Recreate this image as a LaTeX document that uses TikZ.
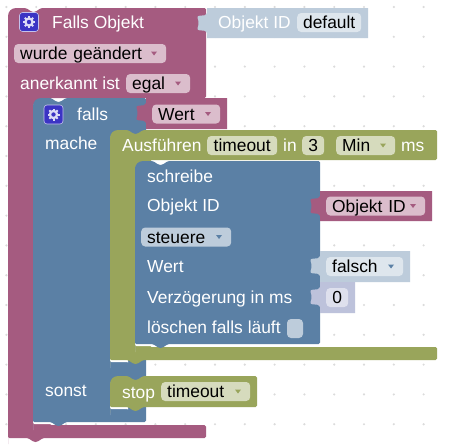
\documentclass[tikz,border=0pt]{standalone}
\usepackage{fontspec}
\setmainfont{Liberation Sans}
\definecolor{blkpink}{HTML}{A55B80}
\definecolor{fldpink}{HTML}{DBBDCC}
\definecolor{blkblue}{HTML}{5B80A5}
\definecolor{fldblue}{HTML}{BDCCDB}
\definecolor{fldpale}{HTML}{DEE6ED}
\definecolor{blkgreen}{HTML}{99A55B}
\definecolor{fldgreen}{HTML}{D6DBBD}
\definecolor{blklav}{HTML}{BDC2DB}
\definecolor{fldlav}{HTML}{DEE0ED}
\definecolor{iconblue}{HTML}{3B34C4}
\definecolor{icongear}{HTML}{DCDCF6}
\tikzset{
  lbl/.style={anchor=west, inner sep=0pt, text height=12.5pt, text depth=0pt, text=white, font=\fontsize{17.4}{20}\selectfont},
  field/.style={lbl, text=black, rounded corners=4pt, minimum height=19pt, align=left}
}
% Puzzle pieces of the block outlines
\newcommand{\notchtop}{-- ++(6,4) -- ++(3,0) -- ++(6,-4)}
\newcommand{\notchbot}{-- ++(-6,4) -- ++(-3,0) -- ++(-6,-4)}
\newcommand{\tabin}{-- ++(-10,1) -- ++(2,7) -- ++(-2,7) -- ++(10,1)}
\newcommand{\fallspath}{(33,120) [rounded corners=8pt] -- (33,98) [rounded corners=1.5pt] -- (51,98) \notchtop -- (146,98) -- (146,422) -- (66,422) \notchbot -- (33,422) [rounded corners=8pt] -- (33,420) -- cycle}
\newcommand{\runpath}{(110,145) [rounded corners=8pt] -- (110,130) [rounded corners=1.5pt] -- (128,130) \notchtop -- (437,130) -- (437,160) -- (150,160) -- (150,347) -- (437,347) -- (437,360) -- (143,360) \notchbot -- (110,360) [rounded corners=8pt] -- (110,358) -- cycle}
\newcommand{\writepath}{(135,175) [rounded corners=8pt] -- (135,161) [rounded corners=1.5pt] -- (153,161) \notchtop -- (320,161) -- (320,344) -- (168,344) \notchbot -- (135,344) [rounded corners=8pt] -- (135,342) -- cycle}
\newcommand{\stoppath}{(110,392) [rounded corners=8pt] -- (110,376) [rounded corners=1.5pt] -- (128,376) \notchtop -- (257,376) -- (257,407) -- (143,407) \notchbot -- (110,407) [rounded corners=8pt] -- (110,405) -- cycle}
% Value block: box with its tab on the left
\newcommand{\outblock}[5]{\fill[#5] (#1,#2) [rounded corners=2pt] -- (#1,#2+7) \tabin [sharp corners] -- (#1,#4) -- (#3,#4) -- (#3,#2) -- cycle;}
% Field with a text and a small menu triangle
\newcommand{\menufield}[7]{
  \node[field, fill=#6, minimum width=#3pt-#2pt, text width=#3pt-#2pt, inner xsep=0pt] (#1) at (#2,#4) {\hspace*{6pt}#5};
  \fill[#7] (#3-15,#4-2) -- (#3-9,#4-2) -- (#3-12,#4+2) -- cycle;
}
\newcommand{\gearicon}[2]{
  \fill[iconblue, draw=white!70!iconblue, line width=.6pt, rounded corners=3pt] (#1-9.5,#2-9.5) rectangle (#1+9.5,#2+9.5);
  \foreach \a in {0,45,...,315}
    \draw[icongear, line width=2pt] (#1,#2) -- ++(\a:6);
  \fill[icongear] (#1,#2) circle[radius=4.8];
  \fill[iconblue] (#1,#2) circle[radius=2.2];
}
\begin{document}
\begin{tikzpicture}[x=1pt, y=-1pt]
    \useasboundingbox (0,0) rectangle (450,447);
    \fill[white] (0,0) rectangle (450,447);

    % Workspace dots
    \foreach \i in {0,...,14}
      \foreach \j in {0,...,14}
        \fill[black!14] (6.4+29.8*\i,7+29.8*\j) circle[radius=1.2];

    % Outer block
    \fill[blkpink] (8,40) [rounded corners=8pt] -- (8,8) [rounded corners=1.5pt] -- (26,8) \notchtop -- (206,8) -- (206,98) -- (50,98) -- (50,425) -- (206,425) -- (206,438) -- (43,438) \notchbot -- (8,438) [rounded corners=8pt] -- (8,436) -- cycle;
    \outblock{207}{8}{368}{38}{fldblue}
    \gearicon{29}{22}
    \node[lbl] (fallsobjekt) at (52,22) {Falls Objekt};
    \node[lbl] (objektid) at (218,22) {Objekt ID};
    \node[field, fill=fldpale, minimum width=64pt] (default) at (297,22.5) {default};
    \menufield{geaendert}{14}{166}{53.5}{wurde geändert}{fldpink}{blkpink}
    \node[lbl] (anerkannt) at (20,83) {anerkannt ist};
    \menufield{egal}{126}{190}{83.5}{egal}{fldpink}{blkpink}

    % Inner if block
    \begin{scope}
      \clip (0,0) rectangle (51,447);
      \fill[white, yshift=-2pt] \fallspath;
    \end{scope}
    \fill[blkblue] \fallspath;
    \outblock{146}{98}{227}{129}{blkpink}
    \gearicon{53.5}{114.5}
    \node[lbl] (falls) at (77,114) {falls};
    \menufield{wert}{152}{220}{114}{Wert}{fldpink}{blkpink}
    \node[lbl] (mache) at (45,143) {mache};
    \node[lbl] (sonst) at (45,390) {sonst};

    % Timeout block
    \begin{scope}
      \clip (0,0) rectangle (128,447);
      \fill[white, yshift=-2pt] \runpath;
    \end{scope}
    \fill[blkgreen] \runpath;
    \node[lbl] (ausfuehren) at (122,145) {Ausführen};
    \node[field, fill=fldgreen, minimum width=70pt] (timeoutname) at (207,145.5) {timeout};
    \node[lbl] (in) at (283,145) {in};
    \node[field, fill=fldgreen, minimum width=22pt] (dauer) at (302,145.5) {3};
    \menufield{min}{336}{395}{145.5}{Min}{fldgreen}{blkgreen}
    \node[lbl] (ms) at (401,145) {ms};

    % Write block
    \begin{scope}
      \clip (0,0) rectangle (153,447);
      \fill[white, yshift=-2pt] \writepath;
    \end{scope}
    \fill[blkblue] \writepath;
    \node[lbl] (schreibe) at (147,176) {schreibe};
    \node[lbl] (idlabel) at (147,205) {Objekt ID};
    \menufield{steuere}{141}{231}{237}{steuere}{fldblue}{blkblue}
    \node[lbl] (wertlabel) at (147,266) {Wert};
    \node[lbl] (verzoegerung) at (147,297) {Verzögerung in ms};
    \node[lbl] (loeschen) at (147,327) {löschen falls läuft};
    \fill[fldblue, rounded corners=4pt] (287,319) rectangle (303,338);

    % Value blocks on the write block
    \outblock{320}{191}{432}{221}{blkpink}
    \menufield{idvalue}{326}{425}{206}{Objekt ID}{fldpink}{blkpink}
    \outblock{320}{251}{410}{282}{fldblue}
    \menufield{falsch}{326}{403}{266.5}{falsch}{fldpale}{blkblue}
    \outblock{320}{282}{355}{313}{blklav}
    \node[field, fill=fldlav, minimum width=22pt] (null) at (326,297.5) {0};

    % Stop block
    \begin{scope}
      \clip (0,0) rectangle (128,447);
      \fill[white, yshift=-2pt] \stoppath;
    \end{scope}
    \fill[blkgreen] \stoppath;
    \node[lbl] (stop) at (122,392) {stop};
    \menufield{timeoutmenu}{161}{250}{391.5}{timeout}{fldgreen}{blkgreen}
\end{tikzpicture}
\end{document}
